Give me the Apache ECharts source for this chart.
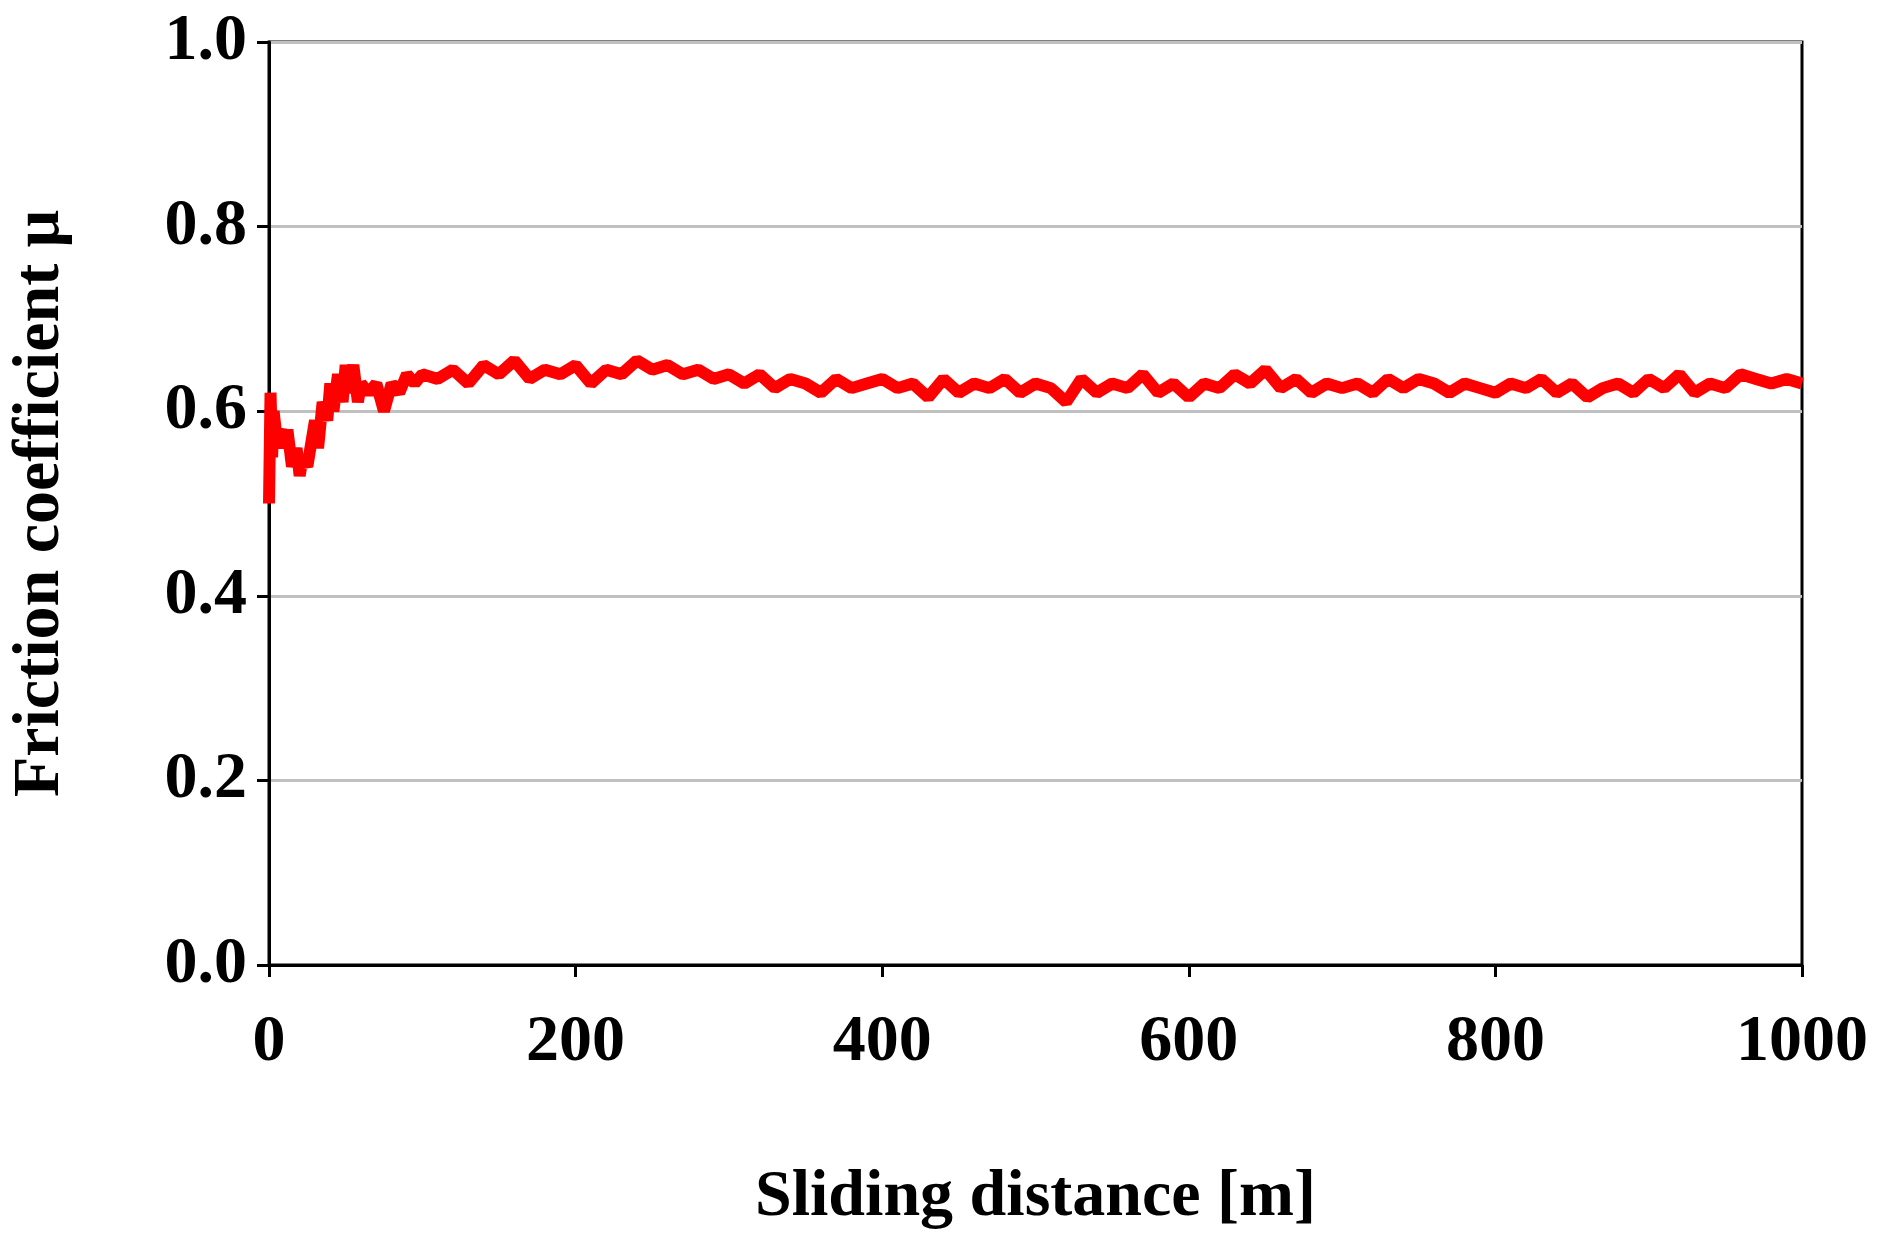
<!DOCTYPE html>
<html><head><meta charset="utf-8">
<script src="https://cdn.jsdelivr.net/npm/echarts@6/dist/echarts.min.js"></script>
<style>html,body{margin:0;background:#fff}#c{width:1879px;height:1257px}</style>
</head><body><div id="c"></div>
<script>
var xData = [0,1,2,3,5,8,10,12,15,18,20,22,25,28,30,32,35,38,40,42,45,48,50,52,55,58,60,65,70,75,80,85,90,95,100,
  110,120,130,140,150,160,170,180,190,200,210,220,230,240,250,260,270,280,290,300,
  310,320,330,340,350,360,370,380,390,400,410,420,430,440,450,460,470,480,490,500,
  510,520,530,540,550,560,570,580,590,600,610,620,630,640,650,660,670,680,690,700,
  710,720,730,740,750,760,770,780,790,800,810,820,830,840,850,860,870,880,890,900,
  910,920,930,940,950,960,970,980,990,1000];
var yData = [0.50,0.62,0.55,0.60,0.57,0.58,0.56,0.58,0.54,0.56,0.53,0.55,0.54,0.57,0.59,0.56,0.61,0.59,0.63,0.60,0.64,0.61,0.65,0.62,0.65,0.61,0.63,0.62,0.63,0.60,0.63,0.62,0.64,0.63,0.64,
  0.635,0.645,0.63,0.65,0.64,0.655,0.635,0.645,0.64,0.65,0.63,0.645,0.64,0.655,0.645,0.65,0.64,0.645,0.635,0.64,
  0.63,0.64,0.625,0.635,0.63,0.62,0.635,0.625,0.63,0.635,0.625,0.63,0.615,0.635,0.62,0.63,0.625,0.635,0.62,0.63,
  0.625,0.61,0.635,0.62,0.63,0.625,0.64,0.62,0.63,0.615,0.63,0.625,0.64,0.63,0.645,0.625,0.635,0.62,0.63,0.625,
  0.63,0.62,0.635,0.625,0.635,0.63,0.62,0.63,0.625,0.62,0.63,0.625,0.635,0.62,0.63,0.615,0.625,0.63,0.62,0.635,
  0.625,0.64,0.62,0.63,0.625,0.64,0.635,0.63,0.635,0.63];
var points = xData.map(function(x, i){ return [x, yData[i]]; });

var font = 'Liberation Serif';
var chart = echarts.init(document.getElementById('c'));
chart.setOption({
  animation: false,
  grid: {left: 265, right: 77, top: 42, bottom: 292, show: true, borderColor: '#000', borderWidth: 3},
  xAxis: {
    type: 'value', min: 0, max: 1000, interval: 200,
    name: 'Sliding distance [m]', nameLocation: 'middle', nameGap: 200,
    nameTextStyle: {fontFamily: font, fontWeight: 'bold', fontSize: 66, color: '#000'},
    axisLine: {lineStyle: {color: '#000', width: 3}},
    axisTick: {show: true, length: 12, lineStyle: {color: '#000', width: 3}},
    axisLabel: {fontFamily: font, fontWeight: 'bold', fontSize: 66, color: '#000', margin: 45,
      formatter: function(v){ return String(v); }},
    splitLine: {show: false}
  },
  yAxis: {
    type: 'value', min: 0, max: 1, interval: 0.2,
    name: 'Friction coefficient μ', nameLocation: 'middle', nameGap: 195,
    nameTextStyle: {fontFamily: font, fontWeight: 'bold', fontSize: 66, color: '#000'},
    axisLine: {show: true, lineStyle: {color: '#000', width: 3}},
    axisTick: {show: true, length: 12, lineStyle: {color: '#000', width: 3}},
    axisLabel: {fontFamily: font, fontWeight: 'bold', fontSize: 66, color: '#000', margin: 22,
      formatter: function(v){ return v.toFixed(1); }},
    splitLine: {show: true, lineStyle: {color: '#c0c0c0', width: 3}}
  },
  series: [{
    type: 'line', data: points, symbol: 'none',
    lineStyle: {color: '#ff0000', width: 12}
  }]
});
</script></body></html>
